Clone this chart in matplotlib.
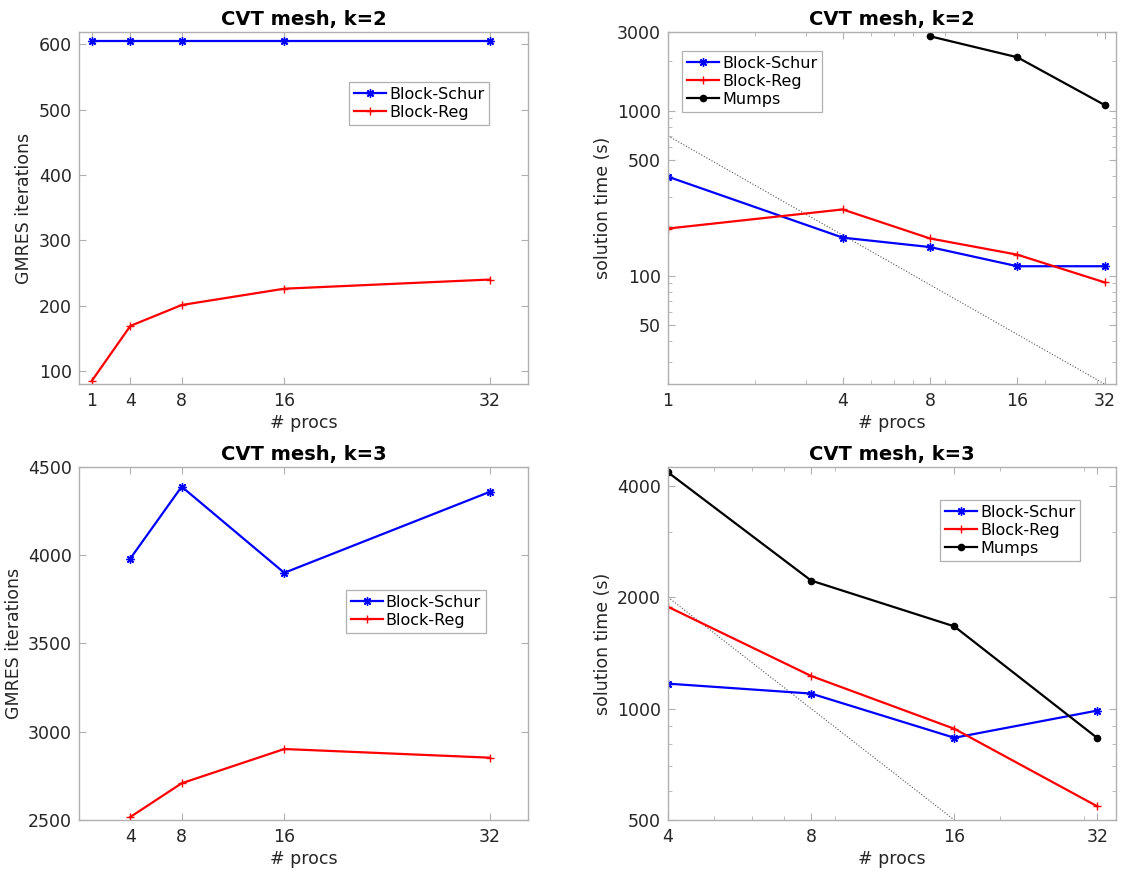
import matplotlib
matplotlib.use('Agg')
import matplotlib.pyplot as plt
from matplotlib.ticker import FixedLocator, NullFormatter, FixedFormatter

plt.rcParams['font.family'] = 'DejaVu Sans'
plt.rcParams['lines.linewidth'] = 1.6

# k=2 data
procs_k2 = [1, 4, 8, 16, 32]
iters_schur_k2 = [606, 606, 606, 606, 606]
iters_reg_k2 = [85, 169, 201, 226, 240]
time_schur_k2 = [398, 170, 149, 114, 114]
time_reg_k2 = [193, 252, 168, 134, 91]
procs_mumps_k2 = [8, 16, 32]
time_mumps_k2 = [2830, 2110, 1083]
ideal_procs_k2 = [1, 32]
ideal_time_k2 = [704, 22]

# k=3 data
procs_k3 = [4, 8, 16, 32]
iters_schur_k3 = [3981, 4388, 3900, 4358]
iters_reg_k3 = [2517, 2708, 2902, 2853]
time_schur_k3 = [1168, 1098, 834, 988]
time_reg_k3 = [1884, 1225, 882, 544]
time_mumps_k3 = [4350, 2218, 1668, 832]
ideal_procs_k3 = [4, 16]
ideal_time_k3 = [2000, 500]

spine_col = '#b0b0b0'
text_col = '#262626'
fs_tick = 12.5
fs_lab = 12.5
fs_title = 14
fs_leg = 11.5
star = (8, 2, 0)

fig = plt.figure(figsize=(11.21, 8.74), dpi=100)
ax1 = fig.add_axes([0.0705, 0.5606, 0.4005, 0.4027])
ax2 = fig.add_axes([0.5959, 0.5606, 0.3996, 0.4027])
ax3 = fig.add_axes([0.0705, 0.0618, 0.4005, 0.404])
ax4 = fig.add_axes([0.5959, 0.0618, 0.3996, 0.404])


def style(ax):
    for s in ax.spines.values():
        s.set_color(spine_col)
        s.set_linewidth(1.0)
    ax.tick_params(which='both', direction='in', top=True, right=True,
                   color=spine_col, labelcolor=text_col, labelsize=fs_tick)
    ax.tick_params(which='major', length=5)
    ax.tick_params(which='minor', length=3)
    ax.tick_params(axis='x', which='major', pad=5.5)
    ax.tick_params(axis='y', which='major', pad=5)


def legend(ax, loc, anchor):
    leg = ax.legend(loc=loc, bbox_to_anchor=anchor, fontsize=fs_leg,
                    fancybox=False, framealpha=1, edgecolor=spine_col,
                    handlelength=2.0, borderpad=0.3, labelspacing=0.2,
                    handletextpad=0.2, borderaxespad=0)
    leg.get_frame().set_linewidth(0.9)


# top left: iterations k=2
ax1.plot(procs_k2, iters_schur_k2, color='blue', marker=star, markersize=6, label='Block-Schur')
ax1.plot(procs_k2, iters_reg_k2, color='red', marker='+', markersize=6, label='Block-Reg')
ax1.set_xlim(0, 35)
ax1.set_ylim(80, 619)
ax1.set_xticks(procs_k2)
ax1.set_yticks([100, 200, 300, 400, 500, 600])
style(ax1)
ax1.set_xlabel('# procs', fontsize=fs_lab, color=text_col, labelpad=3)
ax1.set_ylabel('GMRES iterations', fontsize=fs_lab, color=text_col)
ax1.set_title('CVT mesh, k=2', fontsize=fs_title, fontweight='bold', pad=5)
legend(ax1, 'upper right', (0.913, 0.858))

# top right: time k=2
ax2.plot(ideal_procs_k2, ideal_time_k2, color='#555555', linestyle=':', linewidth=0.8)
ax2.plot(procs_k2, time_schur_k2, color='blue', marker=star, markersize=6, label='Block-Schur')
ax2.plot(procs_k2, time_reg_k2, color='red', marker='+', markersize=6, label='Block-Reg')
ax2.plot(procs_mumps_k2, time_mumps_k2, color='black', marker='.', markersize=9, label='Mumps')
ax2.set_xscale('log')
ax2.set_yscale('log')
ax2.set_xlim(1, 35)
ax2.set_ylim(22, 3000)
ax2.xaxis.set_major_locator(FixedLocator(procs_k2))
ax2.xaxis.set_major_formatter(FixedFormatter([str(p) for p in procs_k2]))
ax2.xaxis.set_minor_formatter(NullFormatter())
ax2.yaxis.set_major_locator(FixedLocator([50, 100, 500, 1000, 3000]))
ax2.yaxis.set_major_formatter(FixedFormatter(['50', '100', '500', '1000', '3000']))
ax2.yaxis.set_minor_formatter(NullFormatter())
style(ax2)
ax2.set_xlabel('# procs', fontsize=fs_lab, color=text_col, labelpad=3)
ax2.set_ylabel('solution time (s)', fontsize=fs_lab, color=text_col)
ax2.set_title('CVT mesh, k=2', fontsize=fs_title, fontweight='bold', pad=5)
legend(ax2, 'upper left', (0.032, 0.947))

# bottom left: iterations k=3
ax3.plot(procs_k3, iters_schur_k3, color='blue', marker=star, markersize=6, label='Block-Schur')
ax3.plot(procs_k3, iters_reg_k3, color='red', marker='+', markersize=6, label='Block-Reg')
ax3.set_xlim(0, 35)
ax3.set_ylim(2500, 4500)
ax3.set_xticks(procs_k3)
ax3.set_yticks([2500, 3000, 3500, 4000, 4500])
style(ax3)
ax3.set_xlabel('# procs', fontsize=fs_lab, color=text_col, labelpad=3)
ax3.set_ylabel('GMRES iterations', fontsize=fs_lab, color=text_col)
ax3.set_title('CVT mesh, k=3', fontsize=fs_title, fontweight='bold', pad=5)
legend(ax3, 'upper right', (0.906, 0.652))

# bottom right: time k=3
ax4.plot(ideal_procs_k3, ideal_time_k3, color='#555555', linestyle=':', linewidth=0.8)
ax4.plot(procs_k3, time_schur_k3, color='blue', marker=star, markersize=6, label='Block-Schur')
ax4.plot(procs_k3, time_reg_k3, color='red', marker='+', markersize=6, label='Block-Reg')
ax4.plot(procs_k3, time_mumps_k3, color='black', marker='.', markersize=9, label='Mumps')
ax4.set_xscale('log')
ax4.set_yscale('log')
ax4.set_xlim(4, 35)
ax4.set_ylim(500, 4500)
ax4.xaxis.set_major_locator(FixedLocator(procs_k3))
ax4.xaxis.set_major_formatter(FixedFormatter([str(p) for p in procs_k3]))
ax4.xaxis.set_minor_formatter(NullFormatter())
ax4.yaxis.set_major_locator(FixedLocator([500, 1000, 2000, 4000]))
ax4.yaxis.set_major_formatter(FixedFormatter(['500', '1000', '2000', '4000']))
ax4.yaxis.set_minor_formatter(NullFormatter())
style(ax4)
ax4.set_xlabel('# procs', fontsize=fs_lab, color=text_col, labelpad=3)
ax4.set_ylabel('solution time (s)', fontsize=fs_lab, color=text_col)
ax4.set_title('CVT mesh, k=3', fontsize=fs_title, fontweight='bold', pad=5)
legend(ax4, 'upper right', (0.92, 0.907))

fig.savefig('out.png', dpi=100)
